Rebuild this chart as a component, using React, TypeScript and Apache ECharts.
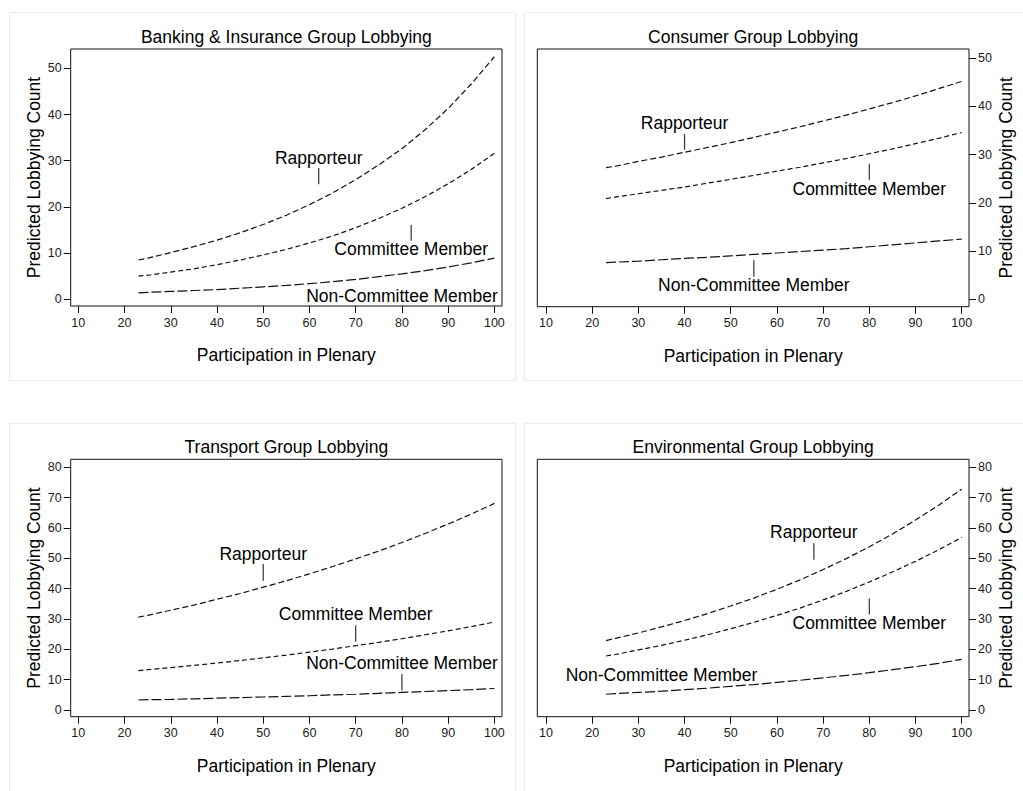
import React, { useEffect, useRef } from "react";
import * as echarts from "echarts";

// Participation in plenary (%) at which predictions are evaluated
const participation = [23, 25, 30, 35, 40, 45, 50, 55, 60, 65, 70, 75, 80, 85, 90, 95, 100];
const xTickValues = [10, 20, 30, 40, 50, 60, 70, 80, 90, 100];
const yTicksTop = [0, 10, 20, 30, 40, 50];
const yTicksBottom = [0, 10, 20, 30, 40, 50, 60, 70, 80];

// Predicted lobbying counts
const bankingRapporteur = [8.5, 8.9, 10.1, 11.4, 12.8, 14.4, 16.2, 18.2, 20.5, 23.0, 25.9, 29.1, 32.6, 36.7, 41.3, 46.6, 52.5];
const bankingCommittee = [5.0, 5.2, 5.9, 6.6, 7.5, 8.5, 9.6, 10.8, 12.2, 13.7, 15.5, 17.5, 19.7, 22.2, 25.0, 28.1, 31.6];
const bankingNonCommittee = [1.4, 1.5, 1.7, 1.9, 2.1, 2.4, 2.7, 3.0, 3.4, 3.8, 4.3, 4.9, 5.5, 6.2, 7.0, 7.9, 8.9];

const consumerRapporteur = [27.3, 27.6, 28.6, 29.5, 30.5, 31.5, 32.5, 33.6, 34.7, 35.8, 37.0, 38.2, 39.5, 40.8, 42.2, 43.7, 45.2];
const consumerCommittee = [20.9, 21.2, 21.9, 22.6, 23.3, 24.1, 24.9, 25.7, 26.6, 27.4, 28.3, 29.2, 30.2, 31.2, 32.3, 33.4, 34.6];
const consumerNonCommittee = [7.6, 7.7, 7.9, 8.2, 8.5, 8.7, 9.0, 9.3, 9.6, 9.9, 10.2, 10.5, 10.9, 11.3, 11.7, 12.1, 12.5];

const transportRapporteur = [30.6, 31.2, 32.9, 34.6, 36.5, 38.4, 40.5, 42.6, 44.9, 47.3, 49.8, 52.4, 55.2, 58.2, 61.3, 64.6, 68.1];
const transportCommittee = [13.0, 13.3, 14.0, 14.7, 15.5, 16.3, 17.2, 18.1, 19.1, 20.1, 21.2, 22.3, 23.5, 24.8, 26.1, 27.5, 29.0];
const transportNonCommittee = [3.3, 3.4, 3.5, 3.7, 3.9, 4.1, 4.3, 4.5, 4.7, 5.0, 5.2, 5.5, 5.8, 6.1, 6.4, 6.7, 7.1];

const environmentalRapporteur = [22.9, 23.6, 25.4, 27.4, 29.5, 31.8, 34.3, 36.9, 39.8, 42.9, 46.3, 49.9, 53.8, 58.0, 62.6, 67.5, 72.8];
const environmentalCommittee = [17.8, 18.3, 19.8, 21.3, 23.0, 24.8, 26.8, 28.9, 31.2, 33.6, 36.3, 39.1, 42.2, 45.5, 49.0, 52.8, 56.9];
const environmentalNonCommittee = [5.2, 5.4, 5.8, 6.2, 6.7, 7.2, 7.8, 8.4, 9.1, 9.8, 10.6, 11.4, 12.3, 13.3, 14.3, 15.4, 16.7];

// Curve labels: [text, x, label y, pointer from, pointer to]
type Note = [string, number, number, number | null, number | null];
const bankingNotes: Note[] = [
  ["Rapporteur", 62, 30.5, 24.9, 28.4],
  ["Committee Member", 82, 10.8, 12.7, 16.1],
  ["Non-Committee Member", 80, 0.7, null, null],
];
const consumerNotes: Note[] = [
  ["Rapporteur", 40, 36.6, 31.0, 34.3],
  ["Committee Member", 80, 22.9, 24.8, 28.1],
  ["Non-Committee Member", 55, 3.0, 4.7, 8.1],
];
const transportNotes: Note[] = [
  ["Rapporteur", 50, 51.4, 42.6, 48.1],
  ["Committee Member", 70, 31.7, 22.5, 27.9],
  ["Non-Committee Member", 80, 15.4, 6.4, 11.9],
];
const environmentalNotes: Note[] = [
  ["Rapporteur", 68, 58.6, 49.5, 55.0],
  ["Committee Member", 80, 28.6, 31.5, 36.8],
  ["Non-Committee Member", 35, 11.5, null, null],
];

const FONT = "'Liberation Sans', Arial, Helvetica, sans-serif";
const INK = "#000";

const panels = [
  {
    title: "Banking & Insurance Group Lobbying",
    side: "left",
    grid: { left: 70.7, top: 49, width: 431.3, height: 257 },
    x: [8.35, 101.65],
    y: [-1.45, 54.18],
    yTicks: yTicksTop,
    curves: [bankingRapporteur, bankingCommittee, bankingNonCommittee],
    notes: bankingNotes,
  },
  {
    title: "Consumer Group Lobbying",
    side: "right",
    grid: { left: 537.3, top: 49, width: 431.7, height: 257.7 },
    x: [8.12, 101.58],
    y: [-1.54, 51.93],
    yTicks: yTicksTop,
    curves: [consumerRapporteur, consumerCommittee, consumerNonCommittee],
    notes: consumerNotes,
  },
  {
    title: "Transport Group Lobbying",
    side: "left",
    grid: { left: 70.7, top: 459.3, width: 431.3, height: 257.4 },
    x: [8.35, 101.65],
    y: [-2.2, 82.64],
    yTicks: yTicksBottom,
    curves: [transportRapporteur, transportCommittee, transportNonCommittee],
    notes: transportNotes,
  },
  {
    title: "Environmental Group Lobbying",
    side: "right",
    grid: { left: 537.3, top: 459.3, width: 431.7, height: 257.4 },
    x: [8.12, 101.58],
    y: [-2.2, 82.64],
    yTicks: yTicksBottom,
    curves: [environmentalRapporteur, environmentalCommittee, environmentalNonCommittee],
    notes: environmentalNotes,
  },
];

// Dash pattern per legislator role: rapporteur, committee member, non-member
const dashes = [
  [6, 3],
  [5, 3],
  [10, 3],
];

function buildOption() {
  const grid: any[] = [];
  const xAxis: any[] = [];
  const yAxis: any[] = [];
  const title: any[] = [];
  const series: any[] = [];

  panels.forEach((p, i) => {
    grid.push({
      ...p.grid,
      show: true,
      borderColor: "#111",
      borderWidth: 1,
      backgroundColor: "#fff",
      containLabel: false,
    });
    title.push({
      text: p.title,
      left: p.grid.left + p.grid.width / 2,
      top: p.grid.top - 21,
      textAlign: "center",
      padding: 0,
      textStyle: { fontFamily: FONT, fontSize: 17.5, fontWeight: "normal", color: INK },
    });
    xAxis.push({
      type: "value",
      gridIndex: i,
      min: p.x[0],
      max: p.x[1],
      name: "Participation in Plenary",
      nameLocation: "middle",
      nameGap: 40,
      nameTextStyle: { fontFamily: FONT, fontSize: 17.5, color: INK },
      axisLine: { show: false, onZero: false },
      splitLine: { show: false },
      axisTick: {
        show: true,
        inside: false,
        length: 7,
        customValues: xTickValues,
        lineStyle: { color: "#111", width: 1 },
      },
      axisLabel: {
        customValues: xTickValues,
        margin: 10,
        fontFamily: FONT,
        fontSize: 12.5,
        color: "#1a1a1a",
      },
    });
    yAxis.push({
      type: "value",
      gridIndex: i,
      position: p.side,
      min: p.y[0],
      max: p.y[1],
      name: "Predicted Lobbying Count",
      nameLocation: "middle",
      nameRotate: 90,
      nameGap: 28,
      nameTextStyle: { fontFamily: FONT, fontSize: 17.5, color: INK },
      axisLine: { show: false, onZero: false },
      splitLine: { show: false },
      axisTick: {
        show: true,
        inside: false,
        length: 7,
        customValues: p.yTicks,
        lineStyle: { color: "#111", width: 1 },
      },
      axisLabel: {
        customValues: p.yTicks,
        margin: 9,
        fontFamily: FONT,
        fontSize: 12.5,
        color: "#1a1a1a",
      },
    });

    p.curves.forEach((vals, k) => {
      series.push({
        type: "line",
        xAxisIndex: i,
        yAxisIndex: i,
        data: participation.map((x, j) => [x, vals[j]]),
        smooth: false,
        symbol: "none",
        silent: true,
        lineStyle: { color: "#111", width: 1.2, type: dashes[k] },
      });
    });

    p.notes.forEach((n) => {
      if (n[3] != null && n[4] != null) {
        series.push({
          type: "line",
          xAxisIndex: i,
          yAxisIndex: i,
          data: [
            [n[1], n[3]],
            [n[1], n[4]],
          ],
          symbol: "none",
          silent: true,
          lineStyle: { color: "#333", width: 1.2 },
        });
      }
    });

    series.push({
      type: "scatter",
      xAxisIndex: i,
      yAxisIndex: i,
      data: p.notes.map((n) => [n[1], n[2], n[0]]),
      symbolSize: 1,
      itemStyle: { color: "#fff", opacity: 0 },
      silent: true,
      label: {
        show: true,
        position: "inside",
        formatter: (d: any) => d.data[2],
        fontFamily: FONT,
        fontSize: 17.5,
        color: INK,
        opacity: 1,
        textBorderWidth: 0,
      },
    });
  });

  // faint frames around each panel
  const frameStyle = { fill: "none", stroke: "#e6ecf0", lineWidth: 1 };
  const graphic = [
    { type: "rect", z: -10, shape: { x: 9.5, y: 12.5, width: 506, height: 368 }, style: frameStyle },
    { type: "rect", z: -10, shape: { x: 524.5, y: 12.5, width: 520, height: 368 }, style: frameStyle },
    { type: "rect", z: -10, shape: { x: 9.5, y: 423.5, width: 506, height: 400 }, style: frameStyle },
    { type: "rect", z: -10, shape: { x: 524.5, y: 423.5, width: 520, height: 400 }, style: frameStyle },
  ];

  return {
    animation: false,
    backgroundColor: "#fff",
    textStyle: { fontFamily: FONT },
    title,
    grid,
    xAxis,
    yAxis,
    series,
    graphic,
  };
}

export default function App() {
  const ref = useRef<HTMLDivElement>(null);

  useEffect(() => {
    if (!ref.current) return;
    const chart = echarts.init(ref.current, undefined, { renderer: "svg" });
    chart.setOption(buildOption() as any);
    return () => chart.dispose();
  }, []);

  return (
    <div
      ref={ref}
      style={{ position: "fixed", left: 0, top: 0, width: 1023, height: 791, background: "#fff" }}
    />
  );
}
